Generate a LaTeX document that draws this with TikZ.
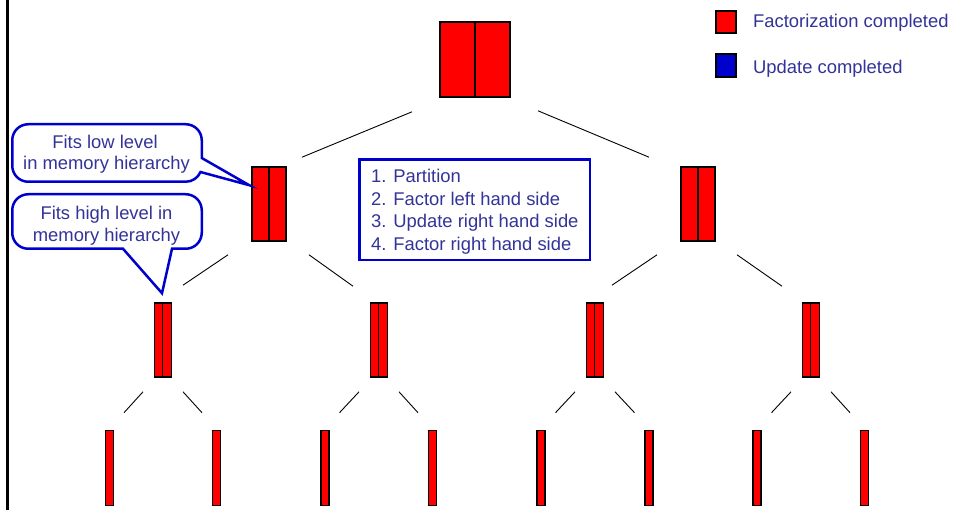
\documentclass[tikz,border=0pt]{standalone}
\usepackage{fontspec}
\setmainfont{Liberation Sans}
\usetikzlibrary{calc}
\definecolor{txt}{RGB}{51,51,153}
\definecolor{bblue}{RGB}{0,0,204}
\definecolor{fred}{RGB}{255,0,0}
\begin{document}
\begin{tikzpicture}[x=1pt,y=-1pt,
  blk/.style={rectangle,draw=black,fill=fred,line width=1.6pt,inner sep=0pt,minimum height=74pt},
  divider/.style={draw=black,line width=1.6pt},
  edge/.style={draw=black,line width=0.9pt},
  lbl/.style={text=txt,font=\fontsize{18.4}{22}\selectfont,inner sep=0pt},
  callout/.style={draw=bblue,line width=2.5pt,fill=white,line join=miter},
  legsq/.style={rectangle,draw=black,line width=1.4pt,inner sep=0pt,minimum width=20pt,minimum height=22pt}
]
\useasboundingbox (0,0) rectangle (953,510);
\fill[white] (0,0) rectangle (953,510);

% left vertical rule
\draw[line width=3pt] (7.5,0) -- (7.5,510);

% legend
\node[legsq,fill=fred] (lr) at (726,22) {};
\node[legsq,fill=bblue,minimum height=23pt] (lb) at (726,65.5) {};
\node[lbl,anchor=base west] (lrt) at (753,28) {Factorization completed};
\node[lbl,anchor=base west] (lbt) at (753,74) {Update completed};

% top block
\node[blk,minimum width=70pt,minimum height=75pt] (T) at (475,59.5) {};
\draw[divider] (T.north) -- (T.south);

% level 1
\node[blk,minimum width=34pt] (A) at (269,204) {};
\node[blk,minimum width=34pt] (B) at (698,204) {};
\foreach \n in {A,B} \draw[divider] (\n.north) -- (\n.south);

% level 2
\foreach \i/\x in {1/163,2/379,3/595,4/811} {
  \node[blk,minimum width=17pt] (C\i) at (\x,340) {};
  \draw[divider] ($(C\i.north)+(-0.5,0)$) -- ($(C\i.south)+(-0.5,0)$);
}

% level 3
\foreach \i/\x in {1/109.5,2/216.5,3/325,4/432.5,5/541,6/649,7/757,8/864.5} {
  \node[blk,minimum width=8pt,minimum height=75pt] (D\i) at (\x,468) {};
}

% tree edges
\draw[edge] ($(T.south)+(-63,14)$) -- ($(A.north)+(33,-9)$);
\draw[edge] ($(T.south)+(63,13)$) -- ($(B.north)+(-49,-9)$);
\draw[edge] ($(A.south)+(-41,13)$) -- ($(C1.north)+(20,-17)$);
\draw[edge] ($(A.south)+(40,13)$) -- ($(C2.north)+(-26,-16)$);
\draw[edge] ($(B.south)+(-41,13)$) -- ($(C3.north)+(17,-17)$);
\draw[edge] ($(B.south)+(39,13)$) -- ($(C4.north)+(-29,-16)$);
\foreach \c/\l/\r in {1/1/2,2/3/4,3/5/6,4/7/8} {
  \draw[edge] ($(C\c.south)+(-20,14)$) -- ($(D\l.north)+(14.5,-17)$);
  \draw[edge] ($(C\c.south)+(20,14)$) -- ($(D\r.north)+(-14.5,-17)$);
}

% info box
\node[rectangle,draw=bblue,line width=2.5pt,minimum width=230.5pt,minimum height=100.5pt,anchor=north west,inner sep=0pt] (info) at (358.25,158.25) {};
\node[lbl,anchor=base west] (s1) at (371,183) {1. Partition};
\node[lbl,anchor=base west] (s2) at (371,205.5) {2. Factor left hand side};
\node[lbl,anchor=base west] (s3) at (371,228) {3. Update right hand side};
\node[lbl,anchor=base west] (s4) at (371,250.5) {4. Factor right hand side};

% callout 1 (low level)
\draw[callout] (12.25,140.25) arc(180:270:16) -- (185.75,124.25) arc(270:360:16)
  -- (201.75,158) -- ($(A.north west)+(-2,19)$) -- (200.48,172) arc(23:90:16)
  -- (28.25,181.75) arc(90:180:16) -- cycle;
\node[lbl,anchor=base] (c1a) at (105,149) {Fits low level};
\node[lbl,anchor=base] (c1b) at (106.5,170) {in memory hierarchy};

% callout 2 (high level)
\draw[callout] (12.25,210.25) arc(180:270:16) -- (185.75,194.25) arc(270:360:16)
  -- (201.75,232.75) arc(0:90:16) -- (172,248.75) -- ($(C1.north)+(-1,-9)$)
  -- (123,248.75) -- (28.25,248.75) arc(90:180:16) -- cycle;
\node[lbl,anchor=base] (c2a) at (106.5,220) {Fits high level in};
\node[lbl,anchor=base] (c2b) at (106.5,242) {memory hierarchy};
\end{tikzpicture}
\end{document}
